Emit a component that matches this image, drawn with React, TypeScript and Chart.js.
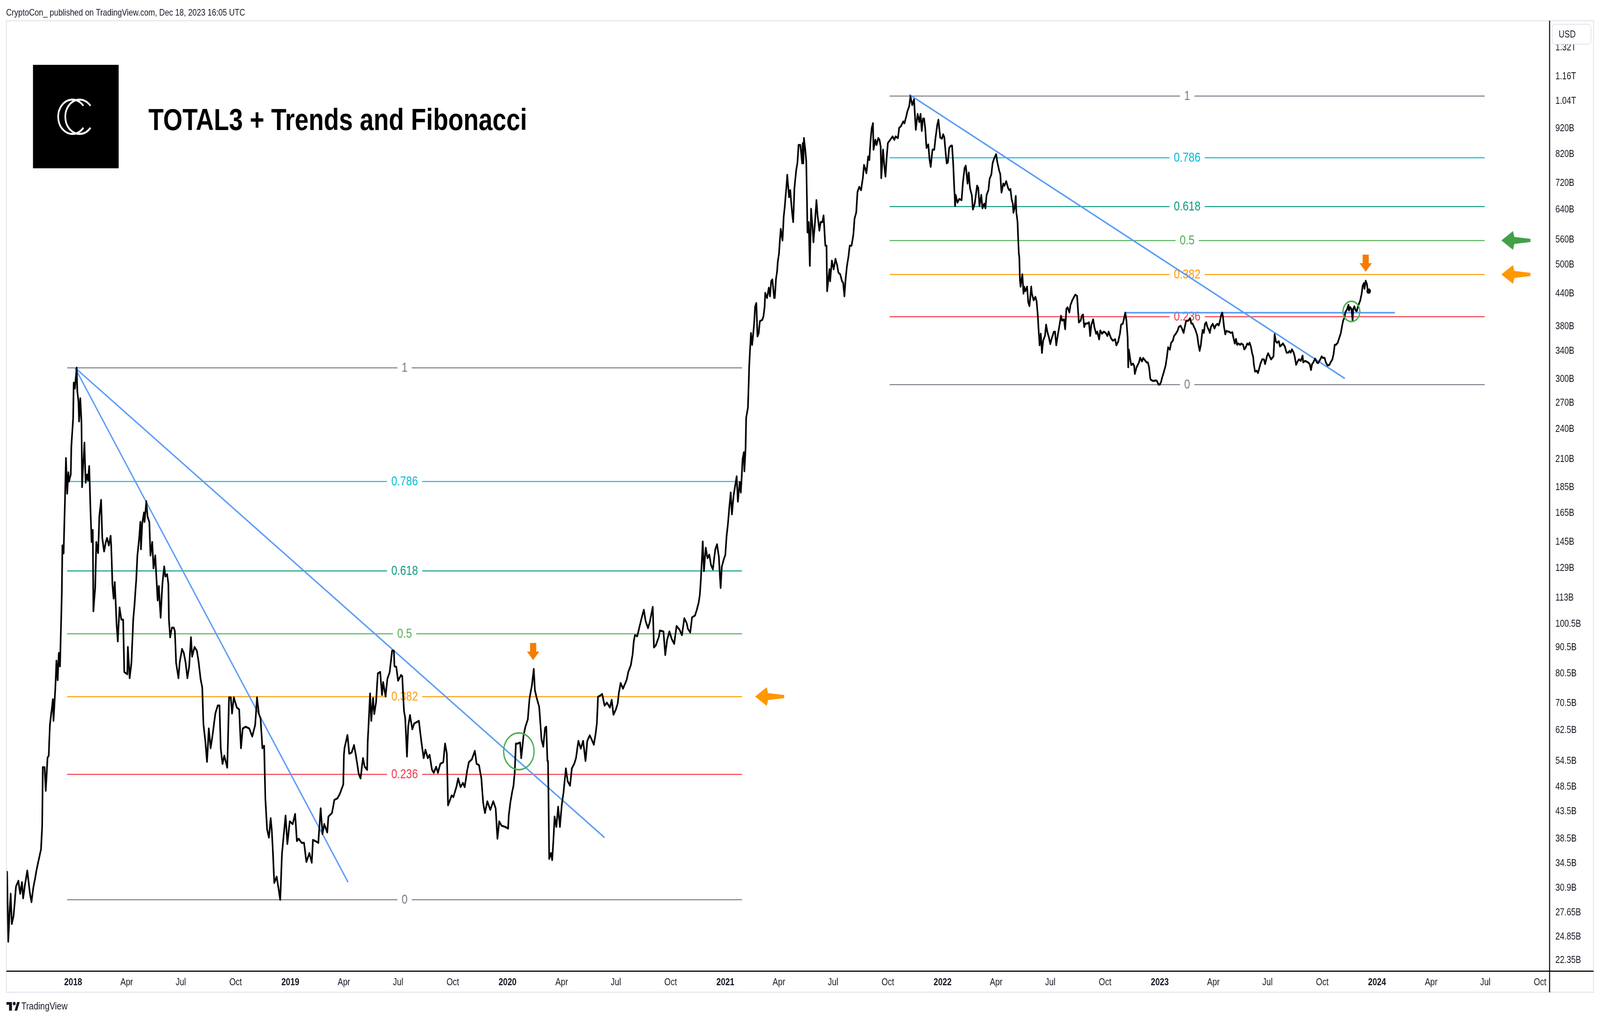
import React, { useEffect, useRef } from "react";
import { Chart, registerables } from "chart.js";

Chart.register(...registerables);

const FONT = '"Liberation Sans", Arial, Helvetica, sans-serif';
const START_DATE = "2018-01-01";

// TOTAL3 daily close (days since START_DATE) and market cap in billions USD
const priceDays = [
  -111,-109,-107,-105,-103,-100,-96,-92,-89,-86,-84,-81,-77,-73,-70,-67,-64,-61,-57,-54,
  -52,-51,-48,-46,-43,-41,-39,-34,-33,-30,-28,-26,-24,-22,-19,-18,-16,-14,-12,-10,
  -8,-7,-4,-3,0,1,3,4,6,7,9,10,12,14,15,17,19,21,23,25,
  27,29,31,33,34,37,39,42,44,47,49,52,55,57,60,63,64,66,68,70,
  73,75,78,81,84,86,91,92,95,98,101,103,106,108,111,113,114,116,119,120,
  123,125,128,130,133,135,138,142,144,147,150,153,155,158,160,161,163,166,169,171,
  173,175,177,179,183,186,189,192,195,198,200,204,208,211,214,217,219,222,225,228,
  231,234,239,243,246,248,251,254,259,262,265,267,270,275,279,282,285,290,296,301,
  306,309,312,315,318,321,323,326,329,332,334,335,338,342,345,348,351,357,360,364,
  369,373,376,379,384,388,392,397,401,403,407,412,416,419,422,427,429,435,439,444,
  448,454,455,456,461,464,468,472,475,480,483,487,490,494,495,499,501,504,506,509,
  512,516,519,521,525,528,532,533,536,539,540,543,546,551,553,556,558,561,563,566,
  570,573,577,581,585,589,592,596,599,603,606,610,613,617,622,625,628,630,636,639,
  644,647,651,655,658,662,665,670,675,678,682,686,689,692,696,701,706,710,713,716,
  720,726,731,732,735,738,740,742,744,747,751,753,757,760,764,767,771,774,776,779,
  783,784,787,790,793,795,797,798,800,803,805,807,809,812,815,818,821,824,828,831,
  835,838,842,845,849,853,857,861,864,868,871,875,878,880,882,885,889,893,897,902,
  905,908,912,915,917,920,924,930,933,937,940,942,944,948,952,956,959,962,966,969,
  974,976,979,984,986,992,995,998,1002,1006,1010,1014,1019,1023,1027,1031,1033,1037,1040,1045,
  1048,1051,1053,1055,1058,1060,1063,1066,1069,1072,1075,1079,1082,1085,1088,1090,1093,1096,1098,1100,
  1103,1105,1107,1110,1113,1115,1117,1120,1122,1125,1127,1128,1130,1131,1134,1136,1139,1141,1144,1146,
  1148,1150,1152,1154,1158,1160,1162,1163,1166,1169,1171,1173,1175,1178,1179,1181,1183,1184,1186,1189,
  1192,1194,1196,1199,1200,1203,1205,1208,1210,1212,1215,1217,1219,1222,1225,1226,1227,1228,1230,1232,
  1233,1234,1236,1238,1240,1242,1244,1247,1249,1251,1254,1256,1259,1261,1262,1264,1266,1267,1269,1271,
  1272,1275,1278,1281,1284,1286,1289,1292,1294,1296,1298,1300,1303,1305,1308,1311,1313,1316,1318,1321,
  1324,1327,1329,1331,1333,1336,1338,1340,1342,1344,1345,1348,1350,1353,1355,1357,1358,1361,1363,1365,
  1367,1369,1373,1377,1380,1382,1386,1388,1391,1395,1397,1400,1402,1405,1407,1410,1413,1415,1416,1419,
  1422,1424,1426,1428,1430,1432,1434,1437,1439,1441,1444,1447,1449,1452,1454,1457,1460,1462,1464,1466,
  1468,1470,1472,1475,1477,1479,1482,1483,1486,1489,1493,1495,1498,1500,1503,1505,1507,1510,1512,1515,
  1519,1521,1523,1526,1528,1531,1533,1535,1538,1540,1543,1545,1548,1551,1553,1556,1558,1560,1563,1565,
  1568,1571,1573,1575,1577,1579,1580,1582,1584,1585,1587,1589,1590,1591,1592,1595,1597,1598,1600,1603,
  1605,1607,1610,1611,1614,1617,1619,1621,1623,1624,1626,1628,1630,1633,1635,1637,1640,1642,1644,1648,
  1650,1652,1655,1657,1660,1662,1665,1667,1669,1671,1674,1676,1679,1682,1684,1687,1688,1690,1693,1695,
  1697,1699,1701,1704,1707,1709,1711,1714,1716,1719,1721,1724,1726,1729,1732,1735,1738,1740,1744,1747,
  1751,1753,1756,1759,1761,1764,1766,1768,1770,1772,1773,1774,1776,1778,1781,1783,1784,1787,1791,1793,
  1796,1798,1801,1804,1806,1808,1810,1811,1814,1817,1819,1821,1824,1826,1828,1830,1833,1836,1838,1840,
  1843,1845,1848,1850,1853,1856,1858,1861,1863,1866,1868,1870,1874,1877,1879,1881,1886,1889,1891,1893,
  1895,1897,1898,1900,1902,1904,1906,1909,1910,1912,1915,1918,1920,1923,1925,1927,1929,1931,1932,1934,
  1936,1938,1940,1942,1945,1948,1949,1952,1954,1956,1958,1961,1963,1966,1968,1970,1973,1975,1977,1979,
  1981,1983,1984,1986,1989,1991,1993,1995,1998,2001,2003,2006,2008,2010,2013,2015,2017,2019,2021,2023,
  2026,2028,2031,2033,2036,2039,2042,2044,2046,2048,2051,2053,2055,2058,2060,2063,2066,2067,2070,2073,
  2075,2078,2080,2082,2084,2087,2090,2092,2095,2098,2100,2103,2105,2108,2111,2113,2116,2118,2120,2122,
  2125,2127,2130,2132,2134,2136,2138,2141,2143,2144,2146,2148,2150,2151,2153,2155,2157,2159,2161,2163,
  2165,2167,2169,2170,2172,2174,2175,2177
];

const priceValues = [
  33.2,24.3,27.4,30.1,26.3,27.3,31.1,31.9,30.1,31.7,29.5,31.3,33.4,30.4,29.0,30.9,32.2,33.7,35.4,36.7,
  40.7,53.0,53.0,47.7,55.3,55.8,64.1,71.8,65.2,75.0,85.3,78.2,88.3,83.2,115.7,142.8,137.8,170,211,180,
  198,190,196,222,252,295.5,288,298,316,285,271,248.5,275.5,248.5,185.3,205.4,226,189,196,191,
  203.6,170,145,153,106.4,118,145,138,162.5,175,147.6,139,145,147.6,142.8,149,142.8,120.2,112.6,121.2,
  100.7,93.0,108.2,102.5,102.5,81.1,80.3,90.7,78.9,84.6,102.5,109.1,122.3,136.5,147.6,158.6,140.4,157.2,165.4,158.6,
  174,162.5,158.6,136.5,145,128.9,136.5,111.7,119.1,103.4,120.2,130,124.3,125.5,120.2,102.5,94.7,98.9,98.9,97.3,
  84.6,81.7,78.9,84.6,89.9,88.3,84.6,78.9,83.2,94.7,86.9,90.7,89.1,84.6,78.9,75.6,64.1,59.8,54.3,63.0,
  57.7,60.8,67.4,69.8,69.8,57.7,53.8,55.8,52.9,72.4,72.4,67.4,72.4,69.2,68.6,57.7,63.0,63.5,63.0,60.8,
  64.1,72.4,67.4,65.8,57.7,58.3,46.0,40.1,38.7,42.2,39.7,37.7,31.6,32.5,30.9,29.3,36.1,42.7,37.6,41.6,
  41.1,43.0,38.1,38.5,37.8,37.8,34.7,36.1,34.6,38.3,38.1,37.8,44.1,39.3,41.1,39.6,42.5,43.2,45.8,46.1,
  47.0,49.1,56.0,57.7,61.2,56.3,56.6,58.5,56.0,51.4,50.4,55.2,53.1,52.4,59.2,73.7,65.2,72.2,67.2,70.8,
  80.6,81.1,73.2,77.5,72.7,78.6,81.1,83.2,89.2,89.2,83.2,83.0,78.0,80.0,79.6,68.1,66.1,55.6,63.5,66.9,
  62.8,64.4,64.8,65.2,59.6,55.2,57.3,55.2,56.0,52.4,51.7,53.1,51.7,53.8,54.2,58.9,56.3,44.7,46.7,46.4,
  48.5,50.4,48.5,49.4,48.5,52.1,54.2,54.9,57.0,53.8,53.5,50.4,45.2,43.2,45.5,43.8,45.5,44.1,38.5,41.6,
  40.8,40.6,40.3,42.7,45.5,47.6,48.8,51.7,58.9,58.9,59.2,55.2,61.2,63.5,65.6,72.2,76.5,82.2,74.7,72.2,
  69.5,67.4,60.0,58.1,63.2,63.5,54.5,54.5,35.2,36.1,35.0,38.1,42.5,40.6,44.4,40.6,44.7,47.3,52.7,49.8,
  48.8,52.7,53.8,55.2,59.6,57.6,59.6,54.5,59.6,61.1,60.1,58.6,61.6,64.3,72.6,72.9,73.5,69.8,70.7,69.2,
  71.6,67.0,68.6,70.4,73.8,77.2,75.3,78.2,81.2,83.5,87.5,92.8,95.6,95.2,99.6,104,107.1,101.8,98.7,101.4,
  108.5,90.5,91.3,94.7,97.6,97.2,87.5,93.5,97.2,93.9,92.0,99.6,98.0,95.6,103.1,100.9,98.4,96.8,103.5,104.4,
  107.1,110.4,114.2,123.4,145.3,127.3,141.3,134.9,137,130.7,128.3,140.2,143.5,136,118.1,129.8,133.8,137,148.8,155.8,
  170.9,180.9,164.1,179,188.1,194.4,173.7,189.5,180.9,210.2,216.5,198.9,221.5,252.9,264.7,317.5,368.8,349.8,380.1,415.1,
  421.8,363.3,368.8,388.9,391.2,397.3,415.1,441.3,431.4,451.6,434.8,465.2,468.6,431.4,431.4,468.6,487.2,506.1,525.1,587.3,
  557.9,618.9,652.8,719.8,748.1,677.2,698.5,633.3,605.6,704,763.8,787.5,854.7,854.7,787.5,861.6,787.5,881.6,843.5,793.6,
  673.3,578.3,605.6,498.2,642.7,601,553.5,614,668.1,623.8,583,605.6,605.6,623.8,596.7,545,545,444.8,468.6,490.5,
  465.2,509.7,490.5,513.7,498.2,483.3,479.6,465.2,461.4,434.8,468.6,494.5,520.9,545,545,570.8,614,633.3,693,709.1,
  698.5,736.9,781.7,769.4,753.5,811.9,799.4,874.8,922.8,941.9,837,874.8,854.7,881.6,874.8,848.3,736.9,837,781.7,742.2,
  805.4,861.6,874.8,888.1,874.8,888.1,881.6,922.8,929.6,949.5,941.9,972,994.4,1017,1063,1021.7,1048,956.7,915,981.9,
  946.8,981.9,910.4,961.6,961.6,915,843.4,856.7,803.2,775.2,837,837,879.2,934.2,956.7,883.6,879.2,896.4,883.6,828.6,
  787.5,791.4,843.4,852.2,852.2,779.1,650.9,683.9,661,671.4,668.1,719.4,771.2,779.1,719.4,755.4,705.6,683.9,640.9,657.6,
  712.6,705.6,650.9,683.9,644.2,657.6,644.2,683.9,698.5,734.4,749.7,787.5,807.3,819.9,791.4,763.3,749.7,691,719.4,712.6,
  726.9,705.6,698.5,702,671.4,657.6,631.6,644.2,680.4,631.6,605.8,527.5,516.7,467.3,453.9,479.6,440,453.9,444.8,453.9,
  422.8,416.1,453.9,440,427.1,433.6,425,398.4,364.1,349.3,367.8,337.5,356.6,364.1,382.9,371.1,360.5,351.1,358.7,371.1,
  371.1,349.3,367.8,379.1,398.4,390,392.1,375.2,410.6,413.9,404.5,418.3,427.1,433.6,437.7,435.4,418.3,386.8,390,398.4,
  400.5,379.1,384.9,384.9,386.8,364.1,382.9,392.1,379.1,367.8,371.1,358.7,373,367.8,371.1,369.2,364.1,371.1,360.5,356.6,
  358.7,349.3,354.8,367.8,382.9,384.9,394.1,404,390,360.5,316.6,342.6,329.9,319.9,321.7,318.3,307.3,316.6,323.4,330.4,
  325,329.9,326.6,323.4,323.4,316.6,301,299.4,297.9,297.9,298.6,297.9,293,293,296.3,302.5,310.4,319.9,332.1,346.1,
  342.6,353,356.6,364.1,367.8,373,379.1,381,377.1,369.2,379.1,388.7,390,394.1,384.9,384.9,373.9,364.3,350,340.6,
  350,366.8,373.9,369.2,384.4,387,379.1,372.6,369.2,379.1,384.4,376.5,381.8,384.4,381.8,388.3,399.8,404,397,379.1,
  366.8,372.6,371.3,371.3,369.2,370,364.3,352,359.3,350,352,350,352,350,342.9,345.2,352,350,353.2,347.5,
  338,331.1,321.2,310.6,311.6,308.5,314.6,321.2,327.9,327.9,321.2,332.3,336.9,333.4,327.9,330.1,332.3,366.8,355.6,353.2,
  355.6,347.5,350,352,347.5,338,338,340.6,338,342.9,338,330.8,320.1,325.7,327.9,325.7,333.4,323.5,325.7,324.6,
  323.5,321.2,312.7,321.2,323.5,329,323.5,322.4,326.8,332.3,330.1,330.1,323.5,319,320.1,323.5,327.9,335.7,350,350,
  353.2,359.3,368,379.1,389.6,394.3,405.2,410.8,418.5,408.1,414.2,410.8,389.6,410.8,415.6,408.1,406.8,415.6,421.3,427.3,
  438.7,455.7,461.1,449.6,465.9,459.5,449.6,444.8
];

const xTickDates = [
  "2018-01-01","2018-04-01","2018-07-01","2018-10-01",
  "2019-01-01","2019-04-01","2019-07-01","2019-10-01",
  "2020-01-01","2020-04-01","2020-07-01","2020-10-01",
  "2021-01-01","2021-04-01","2021-07-01","2021-10-01",
  "2022-01-01","2022-04-01","2022-07-01","2022-10-01",
  "2023-01-01","2023-04-01","2023-07-01","2023-10-01",
  "2024-01-01","2024-04-01","2024-07-01","2024-10-01"
];
const xTickLabels = [
  "2018","Apr","Jul","Oct","2019","Apr","Jul","Oct","2020","Apr","Jul","Oct",
  "2021","Apr","Jul","Oct","2022","Apr","Jul","Oct","2023","Apr","Jul","Oct",
  "2024","Apr","Jul","Oct"
];

const yTickValues = [1320,1160,1040,920,820,720,640,560,500,440,380,340,300,270,240,210,185,165,145,129,113,100.5,90.5,80.5,70.5,62.5,54.5,48.5,43.5,38.5,34.5,30.9,27.65,24.85,22.35];
const yTickLabels = ["1.32T","1.16T","1.04T","920B","820B","720B","640B","560B","500B","440B","380B","340B","300B","270B","240B","210B","185B","165B","145B","129B","113B","100.5B","90.5B","80.5B","70.5B","62.5B","54.5B","48.5B","43.5B","38.5B","34.5B","30.9B","27.65B","24.85B","22.35B"];

const X_MIN_DAY = -112;
const X_MAX_DAY = 2481;
const Y_MIN = 21.3;
const Y_MAX = 1489.6;

const fibLevels = [1, 0.786, 0.618, 0.5, 0.382, 0.236, 0];
const fibLabels = ["1", "0.786", "0.618", "0.5", "0.382", "0.236", "0"];
const fibColors = ["#787B86", "#00BCD4", "#089981", "#4CAF50", "#FF9800", "#F23645", "#787B86"];

// Fibonacci retracements: day span and [high, low] anchor values (B)
const fibA_days = [-10, 1124];
const fibA_range = [316, 29.3];
const fibB_days = [1372, 2372];
const fibB_range = [1063, 292.9];

// Trend lines (day, value)
const trendA_days = [3, 462];
const trendA_values = [316, 31.7];
const trendB_days = [3, 893];
const trendB_values = [316, 38.7];
const trendC_days = [1405, 2137];
const trendC_values = [1071, 301.1];
const levelLine_days = [1768, 2221];
const levelLine_values = [404, 404];

const circleDays = [749, 2148];
const circleValues = [56.9, 406.3];
const circleRadii = [47, 26];

const downArrowDays = [773, 2172];
const downArrowValues = [85.5, 485];

const sideArrowDays = [1146, 2400, 2400];
const sideArrowFib = ["A", "B", "B"];
const sideArrowLevels = [0.382, 0.5, 0.382];
const sideArrowColors = ["#FF9800", "#43A047", "#FF9800"];

const W = 4950;
const H = 2612;

function dayOf(dateStr: string): number {
  const [y, m, d] = dateStr.split("-").map(Number);
  const [y0, m0, d0] = START_DATE.split("-").map(Number);
  return Math.round((Date.UTC(y, m - 1, d) - Date.UTC(y0, m0 - 1, d0)) / 86400000);
}

function fibValue(range: number[], level: number): number {
  const lh = Math.log(range[0]);
  const ll = Math.log(range[1]);
  return Math.exp(ll + level * (lh - ll));
}

const xTickDays = xTickDates.map(dayOf);

const decorPlugin = {
  id: "decor",
  beforeDraw(chart: any) {
    const ctx = chart.ctx;
    ctx.save();
    ctx.fillStyle = "#ffffff";
    ctx.fillRect(0, 0, chart.width, chart.height);
    ctx.restore();
  },
  beforeDatasetsDraw(chart: any) {
    const ctx = chart.ctx;
    const xs = chart.scales.x;
    const ys = chart.scales.y;
    const sets = [
      { days: fibA_days, range: fibA_range },
      { days: fibB_days, range: fibB_range },
    ];
    ctx.save();
    ctx.font = `33px ${FONT}`;
    ctx.textAlign = "center";
    ctx.textBaseline = "middle";
    for (const s of sets) {
      const x0 = xs.getPixelForValue(s.days[0]);
      const x1 = xs.getPixelForValue(s.days[1]);
      const xm = (x0 + x1) / 2;
      fibLevels.forEach((lv, i) => {
        const py = Math.round(ys.getPixelForValue(fibValue(s.range, lv)));
        const tw = ctx.measureText(fibLabels[i]).width;
        const gap = tw / 2 + 13;
        ctx.strokeStyle = fibColors[i];
        ctx.lineWidth = 2.5;
        ctx.beginPath();
        ctx.moveTo(x0, py);
        ctx.lineTo(xm - gap, py);
        ctx.moveTo(xm + gap, py);
        ctx.lineTo(x1, py);
        ctx.stroke();
        ctx.fillStyle = fibColors[i];
        ctx.fillText(fibLabels[i], xm, py + 1);
      });
    }
    ctx.restore();
  },
  afterDatasetsDraw(chart: any) {
    const ctx = chart.ctx;
    const xs = chart.scales.x;
    const ys = chart.scales.y;
    ctx.save();
    ctx.strokeStyle = "#4CAF50";
    ctx.lineWidth = 4;
    circleDays.forEach((d, i) => {
      const cx = xs.getPixelForValue(d);
      const cy = ys.getPixelForValue(circleValues[i]);
      ctx.beginPath();
      ctx.arc(cx, cy, circleRadii[i], 0, Math.PI * 2);
      ctx.stroke();
    });
    ctx.fillStyle = "#F57C00";
    downArrowDays.forEach((d, i) => {
      const px = xs.getPixelForValue(d);
      const py = ys.getPixelForValue(downArrowValues[i]);
      ctx.beginPath();
      ctx.moveTo(px - 9.5, py - 44);
      ctx.lineTo(px + 9.5, py - 44);
      ctx.lineTo(px + 9.5, py - 22);
      ctx.lineTo(px + 19, py - 22);
      ctx.lineTo(px, py);
      ctx.lineTo(px - 19, py - 22);
      ctx.lineTo(px - 9.5, py - 22);
      ctx.closePath();
      ctx.fill();
    });
    sideArrowDays.forEach((d, i) => {
      const range = sideArrowFib[i] === "A" ? fibA_range : fibB_range;
      const px = xs.getPixelForValue(d);
      const py = ys.getPixelForValue(fibValue(range, sideArrowLevels[i]));
      ctx.fillStyle = sideArrowColors[i];
      ctx.beginPath();
      ctx.moveTo(px, py);
      ctx.lineTo(px + 36, py - 24);
      ctx.lineTo(px + 40, py - 9);
      ctx.lineTo(px + 90, py - 4);
      ctx.lineTo(px + 90, py + 4);
      ctx.lineTo(px + 40, py + 9);
      ctx.lineTo(px + 36, py + 24);
      ctx.closePath();
      ctx.fill();
    });
    ctx.restore();
  },
  afterDraw(chart: any) {
    const ctx = chart.ctx;
    const area = chart.chartArea;
    const paneL = 19.5, paneT = 53, paneR = 4930, paneB = 2541;
    ctx.save();
    ctx.strokeStyle = "#E6E7EC";
    ctx.lineWidth = 3;
    ctx.strokeRect(paneL, paneT, paneR - paneL, paneB - paneT);
    ctx.strokeStyle = "#000000";
    ctx.lineWidth = 3;
    ctx.beginPath();
    ctx.moveTo(paneL, area.bottom);
    ctx.lineTo(paneR, area.bottom);
    ctx.moveTo(area.right, paneT);
    ctx.lineTo(area.right, paneB);
    ctx.stroke();

    // USD badge
    ctx.fillStyle = "#ffffff";
    ctx.strokeStyle = "#E0E3EB";
    ctx.lineWidth = 2;
    ctx.beginPath();
    if (ctx.roundRect) ctx.roundRect(4802, 62, 120, 51, 9);
    else ctx.rect(4802, 62, 120, 51);
    ctx.fill();
    ctx.stroke();
    ctx.fillStyle = "#131722";
    ctx.font = `25px ${FONT}`;
    ctx.textAlign = "left";
    ctx.textBaseline = "middle";
    ctx.fillText("USD", 4822, 89);

    // header
    ctx.fillStyle = "#131722";
    ctx.font = `24px ${FONT}`;
    ctx.textAlign = "left";
    ctx.textBaseline = "middle";
    ctx.fillText("CryptoCon_ published on TradingView.com, Dec 18, 2023 16:05 UTC", 19, 33);

    // logo block
    ctx.fillStyle = "#000000";
    ctx.fillRect(102, 166, 265, 265);
    ctx.strokeStyle = "#ffffff";
    ctx.lineWidth = 5;
    const a0 = Math.PI * 0.22, a1 = Math.PI * 1.78;
    ctx.beginPath();
    ctx.arc(224, 299, 44, a0, a1);
    ctx.stroke();
    ctx.beginPath();
    ctx.arc(246, 299, 44, a0, a1);
    ctx.stroke();

    // title
    ctx.fillStyle = "#000000";
    ctx.font = `bold 77px ${FONT}`;
    ctx.textAlign = "left";
    ctx.textBaseline = "alphabetic";
    ctx.fillText("TOTAL3 + Trends and Fibonacci", 459, 333);

    // footer logo + text
    ctx.fillStyle = "#131722";
    ctx.fillRect(20, 2566, 17, 7);
    ctx.fillRect(28, 2566, 9, 22);
    ctx.beginPath();
    ctx.arc(44, 2570, 4.5, 0, Math.PI * 2);
    ctx.fill();
    ctx.beginPath();
    ctx.moveTo(45, 2588);
    ctx.lineTo(53, 2566);
    ctx.lineTo(61, 2566);
    ctx.lineTo(53, 2588);
    ctx.closePath();
    ctx.fill();
    ctx.font = `26px ${FONT}`;
    ctx.textBaseline = "middle";
    ctx.fillText("TradingView", 66, 2578);
    ctx.restore();
  },
};

export default function App() {
  const canvasRef = useRef<HTMLCanvasElement | null>(null);

  useEffect(() => {
    if (!canvasRef.current) return;
    const n = Math.min(priceDays.length, priceValues.length);
    const pricePoints = [];
    for (let i = 0; i < n; i++) pricePoints.push({ x: priceDays[i], y: priceValues[i] });
    const seg = (days: number[], vals: number[]) => days.map((d, i) => ({ x: d, y: vals[i] }));
    const lastIdx = n - 1;

    const trendStyle = {
      borderColor: "#5B9CF6",
      borderWidth: 4,
      pointRadius: 0,
      fill: false,
      tension: 0,
      order: 1,
    };

    const chart = new Chart(canvasRef.current, {
      type: "line",
      data: {
        datasets: [
          {
            label: "TOTAL3",
            data: pricePoints,
            borderColor: "#000000",
            backgroundColor: "#000000",
            borderWidth: 5,
            borderJoinStyle: "round",
            borderCapStyle: "round",
            pointRadius: (c: any) => (c.dataIndex === lastIdx ? 7 : 0),
            pointBackgroundColor: "#000000",
            pointBorderWidth: 0,
            tension: 0,
            fill: false,
            order: 0,
          },
          { label: "Trend A", data: seg(trendA_days, trendA_values), ...trendStyle },
          { label: "Trend B", data: seg(trendB_days, trendB_values), ...trendStyle },
          { label: "Trend C", data: seg(trendC_days, trendC_values), ...trendStyle },
          { label: "Level", data: seg(levelLine_days, levelLine_values), ...trendStyle },
        ],
      },
      options: {
        responsive: false,
        maintainAspectRatio: false,
        devicePixelRatio: 1,
        animation: false,
        events: [],
        parsing: false,
        layout: { padding: { left: 20, top: 53, right: 25, bottom: 71 } },
        plugins: {
          legend: { display: false },
          tooltip: { enabled: false },
          title: { display: false },
        },
        scales: {
          x: {
            type: "linear",
            min: X_MIN_DAY,
            max: X_MAX_DAY,
            grid: { display: false, drawTicks: false },
            border: { display: false },
            afterBuildTicks: (axis: any) => {
              axis.ticks = xTickDays.map((v) => ({ value: v }));
            },
            afterFit: (scale: any) => {
              scale.height = 54;
            },
            ticks: {
              autoSkip: false,
              maxRotation: 0,
              minRotation: 0,
              padding: 14,
              color: "#131722",
              font: (c: any) => ({
                family: FONT,
                size: 25,
                weight: /^\d{4}$/.test(xTickLabels[c.index] || "") ? "bold" : "normal",
              }),
              callback: (_v: any, i: number) => xTickLabels[i],
            },
          },
          y: {
            type: "logarithmic",
            position: "right",
            min: Y_MIN,
            max: Y_MAX,
            grid: { display: false, drawTicks: false },
            border: { display: false },
            afterBuildTicks: (axis: any) => {
              axis.ticks = yTickValues.map((v) => ({ value: v }));
            },
            afterFit: (scale: any) => {
              scale.width = 131;
            },
            ticks: {
              autoSkip: false,
              padding: 18,
              color: "#131722",
              font: { family: FONT, size: 25 },
              callback: (_v: any, i: number) => yTickLabels[i],
            },
          },
        },
      },
      plugins: [decorPlugin],
    } as any);

    return () => chart.destroy();
  }, []);

  return (
    <div style={{ position: "fixed", left: 0, top: 0, width: "100vw", height: "100vh", background: "#ffffff", overflow: "hidden" }}>
      <canvas ref={canvasRef} width={W} height={H} style={{ width: "100vw", height: "100vh", display: "block" }} />
    </div>
  );
}
